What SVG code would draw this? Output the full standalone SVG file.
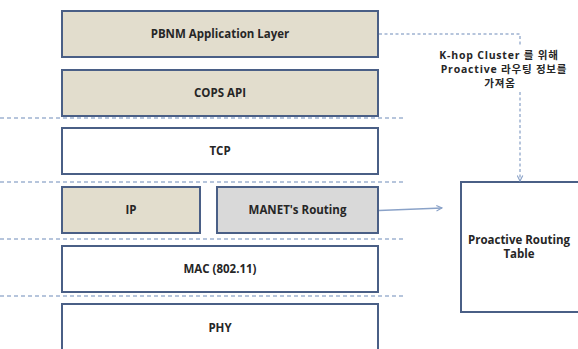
<svg xmlns="http://www.w3.org/2000/svg" width="578" height="349" viewBox="0 0 578 349">
<style>
.box{stroke:#4a5f86;stroke-width:2}
.beige{fill:#e2ddcd}
.gray{fill:#d9d9d9}
.white{fill:#ffffff}
.sep{stroke:#9fb3d1;stroke-width:1.5;stroke-dasharray:4 3;fill:none}
.t{font-family:"Open Sans","Noto Sans CJK KR",sans-serif;font-weight:bold;font-size:11.5px;fill:#262626;text-anchor:middle}
.k{font-size:10.5px;letter-spacing:0.8px}
.conn{stroke:#8aa2c8;stroke-width:1.5;fill:none}
.dconn{stroke:#9fb3d1;stroke-width:1.5;fill:none;stroke-dasharray:3 2.5}
</style>
<defs>
<marker id="arr" viewBox="0 0 10 10" refX="9" refY="5" markerWidth="7" markerHeight="7" orient="auto" markerUnits="userSpaceOnUse">
<path d="M1,1 L9,5 L1,9" fill="none" stroke="#8aa2c8" stroke-width="1.6"/>
</marker>
</defs>
<rect width="578" height="349" fill="#ffffff"/>
<g id="separators">
<line class="sep" x1="0" y1="118" x2="403" y2="118"/>
<line class="sep" x1="0" y1="182" x2="403" y2="182"/>
<line class="sep" x1="0" y1="239" x2="403" y2="239"/>
<line class="sep" x1="0" y1="296" x2="403" y2="296"/>
</g>
<g id="pbnm"><rect class="box beige" x="62" y="11" width="316" height="46"/><text class="t" x="220" y="38">PBNM Application Layer</text></g>
<g id="cops"><rect class="box beige" x="62" y="70" width="316" height="46"/><text class="t" x="220" y="97">COPS API</text></g>
<g id="tcp"><rect class="box white" x="62" y="128" width="316" height="46"/><text class="t" x="220" y="155">TCP</text></g>
<g id="ip"><rect class="box beige" x="62" y="187" width="138" height="46"/><text class="t" x="131" y="214">IP</text></g>
<g id="manet"><rect class="box gray" x="217" y="187" width="161" height="46"/><text class="t" x="297.5" y="214">MANET's Routing</text></g>
<g id="mac"><rect class="box white" x="62" y="246" width="316" height="46"/><text class="t" x="220" y="273">MAC (802.11)</text></g>
<g id="phy"><rect class="box white" x="62" y="304" width="316" height="60"/><text class="t" x="220" y="332">PHY</text></g>
<g id="table"><rect class="box white" x="461" y="182" width="120" height="130"/><text class="t" x="519" y="244">Proactive Routing</text><text class="t" x="519" y="258">Table</text></g>
<g id="connectors">
<line class="conn" x1="379" y1="210.5" x2="442" y2="208" marker-end="url(#arr)"/>
<polyline class="dconn" points="379,34 520,34 520,46"/>
<line class="dconn" x1="520" y1="92" x2="520" y2="181" marker-end="url(#arr)"/>
<text class="t k" x="499" y="59">K-hop Cluster 를 위해</text>
<text class="t k" x="504" y="73">Proactive  라우팅 정보를</text>
<text class="t k" x="500" y="87">가져옴</text>
</g>
</svg>
